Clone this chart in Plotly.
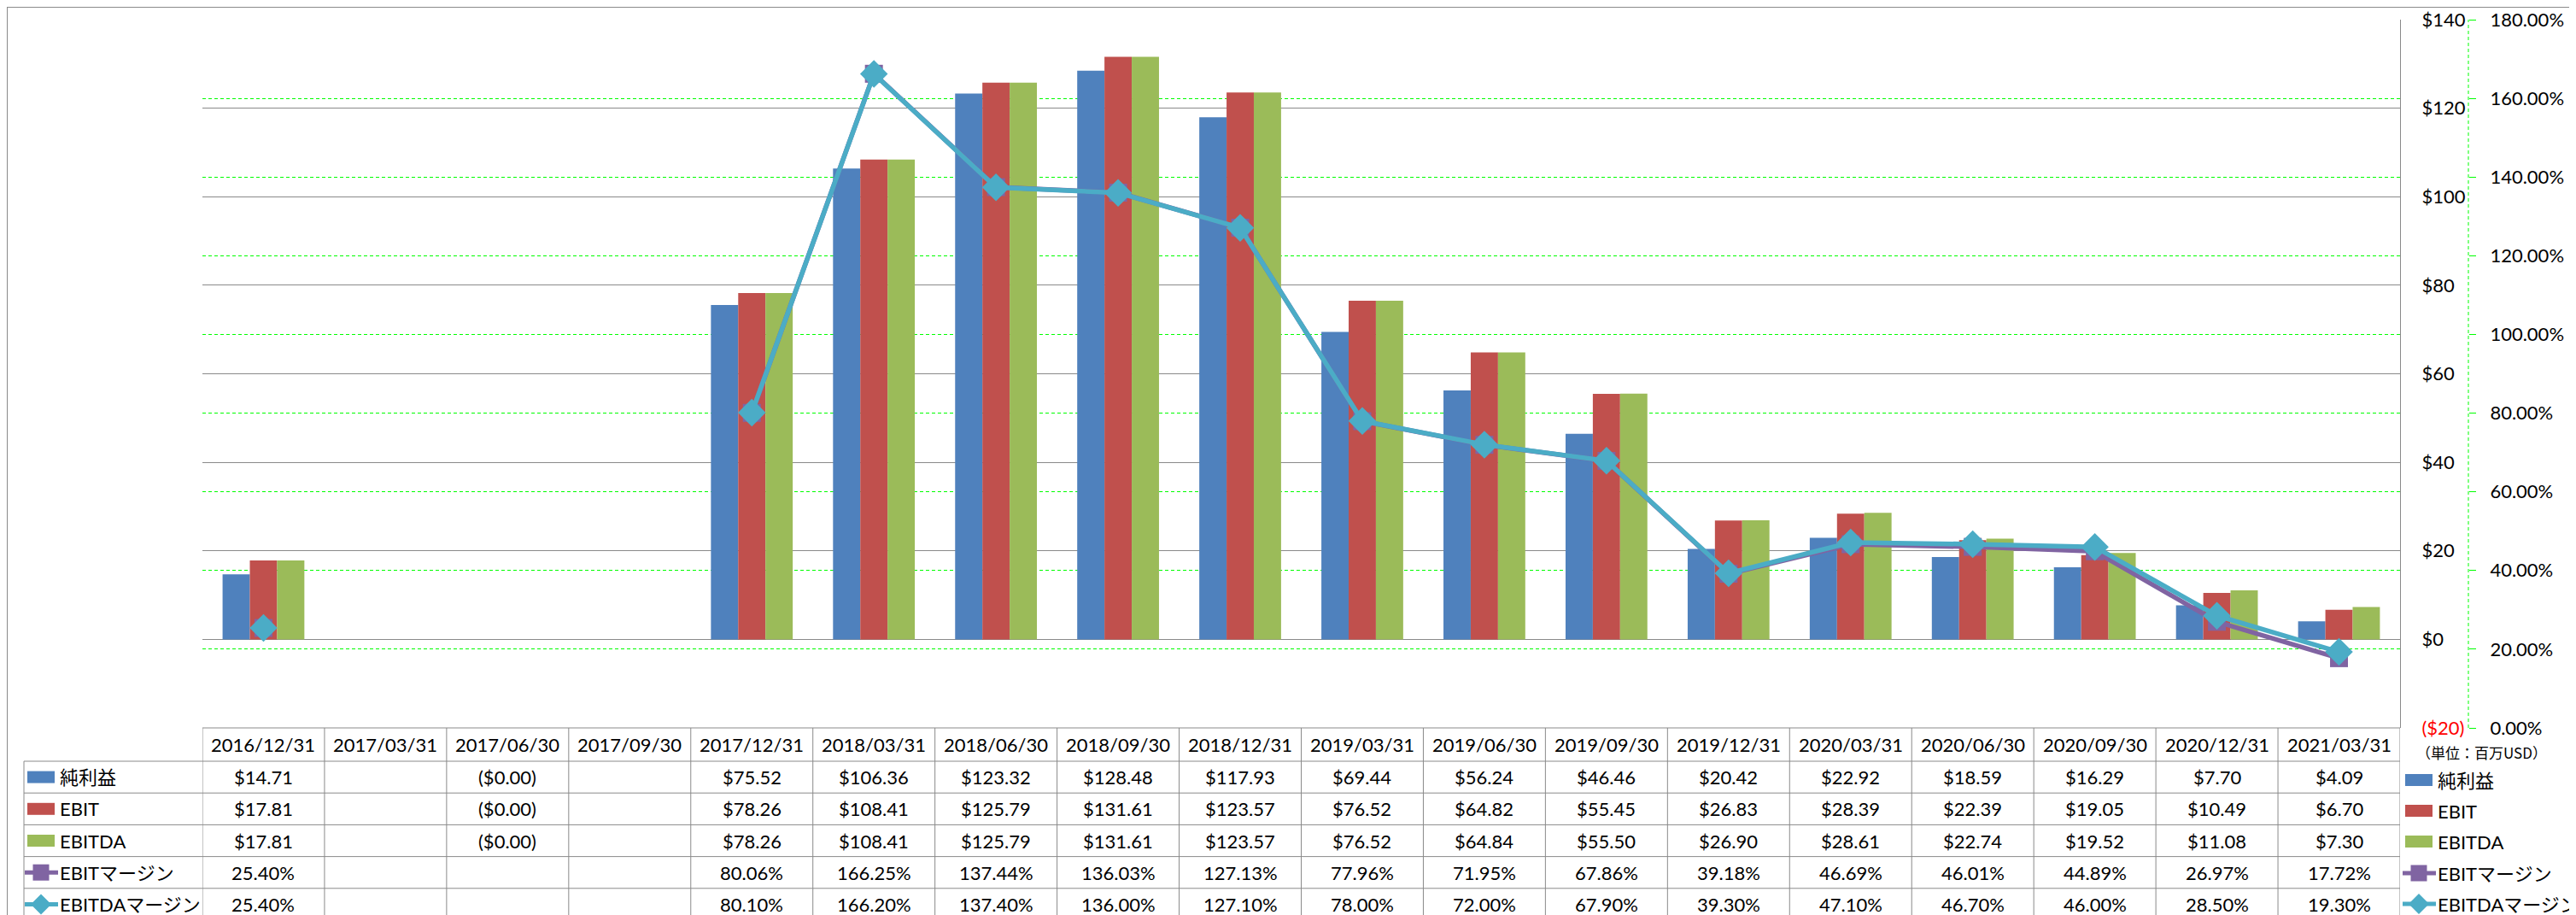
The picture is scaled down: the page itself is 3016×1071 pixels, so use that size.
import plotly.graph_objects as go

# ---------------- data ----------------
dates = ["2016/12/31", "2017/03/31", "2017/06/30", "2017/09/30", "2017/12/31", "2018/03/31",
         "2018/06/30", "2018/09/30", "2018/12/31", "2019/03/31", "2019/06/30", "2019/09/30",
         "2019/12/31", "2020/03/31", "2020/06/30", "2020/09/30", "2020/12/31", "2021/03/31"]
net_income = [14.71, None, -0.001, None, 75.52, 106.36, 123.32, 128.48, 117.93, 69.44, 56.24, 46.46,
              20.42, 22.92, 18.59, 16.29, 7.70, 4.09]
ebit = [17.81, None, -0.001, None, 78.26, 108.41, 125.79, 131.61, 123.57, 76.52, 64.82, 55.45,
        26.83, 28.39, 22.39, 19.05, 10.49, 6.70]
ebitda = [17.81, None, -0.001, None, 78.26, 108.41, 125.79, 131.61, 123.57, 76.52, 64.84, 55.50,
          26.90, 28.61, 22.74, 19.52, 11.08, 7.30]
ebit_margin = [25.40, None, None, None, 80.06, 166.25, 137.44, 136.03, 127.13, 77.96, 71.95, 67.86,
               39.18, 46.69, 46.01, 44.89, 26.97, 17.72]
ebitda_margin = [25.40, None, None, None, 80.10, 166.20, 137.40, 136.00, 127.10, 78.00, 72.00, 67.90,
                 39.30, 47.10, 46.70, 46.00, 28.50, 19.30]

y_tickvals = [-20, 0, 20, 40, 60, 80, 100, 120, 140]
y_ticktext = ["<span style='color:#FF0000'>($20)</span>", "$0", "$20", "$40", "$60", "$80",
              "$100", "$120", "$140"]
y2_tickvals = [0, 20, 40, 60, 80, 100, 120, 140, 160, 180]
y2_ticktext = ["0.00%", "20.00%", "40.00%", "60.00%", "80.00%", "100.00%", "120.00%",
               "140.00%", "160.00%", "180.00%"]
unit_label = "（単位：百万USD）"

# ---------------- style ----------------
W, H = 3016, 1071
BLUE, RED, GREEN = "#4F81BD", "#C0504D", "#9BBB59"
PURPLE, CYAN = "#8064A2", "#4BACC6"
GRID_GRAY = "#8A8A8A"
LIME = "#00FF00"
FONT = "Lato, 'Noto Sans CJK JP', sans-serif"
FS = 22

PLOT_L, PLOT_R, PLOT_T, PLOT_B = 229, 2802, 15, 844
Y2_POS = 2882


def pxx(p):
    return p / W


def pyy(p):
    return (H - p) / H


def money(v):
    if v is None:
        return ""
    s = f"${abs(v):.2f}"
    return f"({s})" if v < 0 else s


def pct(v):
    return "" if v is None else f"{v:.2f}%"


fig = go.Figure()
for name, vals, color in [("純利益", net_income, BLUE), ("EBIT", ebit, RED), ("EBITDA", ebitda, GREEN)]:
    fig.add_trace(go.Bar(x=dates, y=vals, name=name, marker=dict(color=color, line=dict(width=0)),
                         yaxis="y", showlegend=False))

fig.add_trace(go.Scatter(x=dates, y=ebit_margin, name="EBITマージン", yaxis="y2", mode="lines+markers",
                         line=dict(color=PURPLE, width=5.5), connectgaps=False,
                         marker=dict(symbol="square", size=21, color=PURPLE), showlegend=False))
fig.add_trace(go.Scatter(x=dates, y=ebitda_margin, name="EBITDAマージン", yaxis="y2", mode="lines+markers",
                         line=dict(color=CYAN, width=5.5), connectgaps=False,
                         marker=dict(symbol="diamond", size=25, color=CYAN), showlegend=False))

shapes = []
annotations = []

# secondary axis dashed line
shapes.append(dict(type="line", xref="paper", yref="paper", x0=pxx(Y2_POS), x1=pxx(Y2_POS),
                   y0=pyy(PLOT_B), y1=pyy(PLOT_T), line=dict(color=LIME, width=1, dash="4px,3px")))

# ---------------- data table ----------------
HEAD_T, HEAD_B = 844, 883
row_bounds = [883, 920.2, 957.4, 994.6, 1031.8, 1069]
TBL_L = 20
line_style = dict(color=GRID_GRAY, width=1)

shapes.append(dict(type="line", xref="x", yref="paper", x0=-0.5, x1=len(dates) - 0.5,
                   y0=pyy(HEAD_T), y1=pyy(HEAD_T), line=line_style))
for yb in row_bounds:
    shapes.append(dict(type="line", xref="paper", yref="paper", x0=pxx(TBL_L), x1=pxx(PLOT_R),
                       y0=pyy(yb), y1=pyy(yb), line=line_style))
for i in range(len(dates) + 1):
    shapes.append(dict(type="line", xref="x", yref="paper", x0=i - 0.5, x1=i - 0.5,
                       y0=pyy(HEAD_T), y1=pyy(row_bounds[-1]), line=line_style))
shapes.append(dict(type="line", xref="paper", yref="paper", x0=pxx(TBL_L), x1=pxx(TBL_L),
                   y0=pyy(row_bounds[0]), y1=pyy(row_bounds[-1]), line=line_style))

for d in dates:
    annotations.append(dict(x=d, xref="x", y=pyy((HEAD_T + HEAD_B) / 2), yref="paper", text=d,
                            showarrow=False, font=dict(family=FONT, size=FS, color="black"),
                            xanchor="center", yanchor="middle"))

rows = [("純利益", net_income, "bar", BLUE, money),
        ("EBIT", ebit, "bar", RED, money),
        ("EBITDA", ebitda, "bar", GREEN, money),
        ("EBITマージン", ebit_margin, "square", PURPLE, pct),
        ("EBITDAマージン", ebitda_margin, "diamond", CYAN, pct)]


def key_shapes(x0, yc, kind, color):
    out = []
    if kind == "bar":
        out.append(dict(type="rect", xref="paper", yref="paper", x0=pxx(x0), x1=pxx(x0 + 32),
                        y0=pyy(yc + 7), y1=pyy(yc - 7), fillcolor=color, line=dict(width=0)))
    else:
        out.append(dict(type="line", xref="paper", yref="paper", x0=pxx(x0 - 3), x1=pxx(x0 + 36),
                        y0=pyy(yc), y1=pyy(yc), line=dict(color=color, width=5)))
        cx = x0 + 16
        if kind == "square":
            h = 9.5
            out.append(dict(type="rect", xref="paper", yref="paper", x0=pxx(cx - h), x1=pxx(cx + h),
                            y0=pyy(yc + h), y1=pyy(yc - h), fillcolor=color, line=dict(width=0)))
        else:
            h = 12
            path = (f"M {pxx(cx)},{pyy(yc - h)} L {pxx(cx + h)},{pyy(yc)} "
                    f"L {pxx(cx)},{pyy(yc + h)} L {pxx(cx - h)},{pyy(yc)} Z")
            out.append(dict(type="path", xref="paper", yref="paper", path=path,
                            fillcolor=color, line=dict(width=0)))
    return out


for r, (label, vals, kind, color, fmt) in enumerate(rows):
    yc = (row_bounds[r] + row_bounds[r + 1]) / 2
    shapes.extend(key_shapes(24, yc, kind, color))
    annotations.append(dict(x=pxx(60), xref="paper", y=pyy(yc), yref="paper", text=label,
                            showarrow=False, font=dict(family=FONT, size=FS, color="black"),
                            xanchor="left", yanchor="middle"))
    for d, v in zip(dates, vals):
        t = fmt(v)
        if t:
            annotations.append(dict(x=d, xref="x", y=pyy(yc), yref="paper", text=t,
                                    showarrow=False, font=dict(family=FONT, size=FS, color="black"),
                                    xanchor="center", yanchor="middle"))

# ---------------- right legend ----------------
legend_y = [905, 941, 977, 1014, 1050]
for (label, vals, kind, color, fmt), yc in zip(rows, legend_y):
    shapes.extend(key_shapes(2808, yc, kind, color))
    annotations.append(dict(x=pxx(2844), xref="paper", y=pyy(yc), yref="paper", text=label,
                            showarrow=False, font=dict(family=FONT, size=FS, color="black"),
                            xanchor="left", yanchor="middle"))

annotations.append(dict(x=pxx(2897), xref="paper", y=pyy(872), yref="paper", text=unit_label,
                        showarrow=False, font=dict(family="'Noto Sans CJK JP'", size=17, color="black"),
                        xanchor="center", yanchor="middle"))

shapes.append(dict(type="rect", xref="paper", yref="paper", x0=0, x1=1, y0=0, y1=1,
                   line=dict(color=GRID_GRAY, width=2), fillcolor="rgba(0,0,0,0)"))

fig.update_layout(
    width=W, height=H, autosize=False,
    margin=dict(l=0, r=0, t=0, b=0, pad=0),
    paper_bgcolor="white", plot_bgcolor="white",
    barmode="group", bargap=0.33, bargroupgap=0,
    font=dict(family=FONT, size=FS, color="black"),
    xaxis=dict(type="category", domain=[pxx(PLOT_L), pxx(PLOT_R)], range=[-0.5, len(dates) - 0.5],
               showticklabels=False, showgrid=False, zeroline=False, showline=False, ticks="",
               automargin=False),
    yaxis=dict(domain=[pyy(PLOT_B), pyy(PLOT_T)], range=[-20, 140], side="right", anchor="x",
               tickvals=y_tickvals, ticktext=y_ticktext, showgrid=True, gridcolor=GRID_GRAY, gridwidth=1,
               zeroline=False, showline=True, linecolor=GRID_GRAY, linewidth=1, ticks="",
               ticklabelstandoff=20, tickfont=dict(family=FONT, size=FS, color="black"), automargin=False),
    yaxis2=dict(domain=[pyy(PLOT_B), pyy(PLOT_T)], range=[0, 180], overlaying="y", side="right",
                anchor="free", position=pxx(Y2_POS), tickvals=y2_tickvals, ticktext=y2_ticktext,
                showgrid=True, gridcolor=LIME, gridwidth=1, griddash="4px,3px",
                zeroline=False, showline=False, ticks="outside", ticklen=8, tickcolor=LIME, tickwidth=1,
                ticklabelstandoff=12, tickfont=dict(family=FONT, size=FS, color="black"), automargin=False),
    shapes=shapes,
    annotations=annotations,
)

fig.write_html("out.html")
